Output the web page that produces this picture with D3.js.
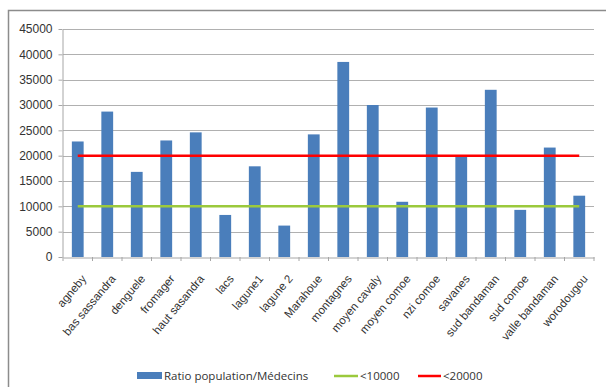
<!DOCTYPE html>
<html><head><meta charset="utf-8">
<script src="https://cdn.jsdelivr.net/npm/d3@7"></script>
<style>body{margin:0;background:#fff;}svg{display:block;font-family:"Open Sans","Liberation Sans",sans-serif;}</style>
</head><body>
<svg id="c" width="606" height="387"></svg>
<script>
const categories = ["agneby","bas sassandra","denguele","fromager","haut sasandra","lacs","lagune1","lagune 2","Marahoue","montagnes","moyen cavaly","moyen comoe","nzi comoe","savanes","sud bandaman","sud comoe","valle bandaman","worodougou"];
const ratio = [22800,28700,16800,23000,24600,8300,17900,6200,24200,38500,30000,10900,29500,20000,33000,9300,21600,12100];
const threshold1 = 10000;
const threshold2 = 20000;
const yTicks = [0,5000,10000,15000,20000,25000,30000,35000,40000,45000];
const seriesNames = ["Ratio population/Médecins","<10000","<20000"];

const svg = d3.select("#c");
const m = {l:63, r:594, t:29, b:257};
svg.append("path").attr("d","M8.5,400 V10.5 H606").attr("fill","none").attr("stroke","#8c8c8c").attr("stroke-width",1.5);

const x = d3.scaleBand().domain(categories).range([m.l, m.r]).paddingInner(0.6).paddingOuter(0.3);
const y = d3.scaleLinear().domain([0,45000]).range([m.b, m.t]);

svg.append("g").selectAll("line").data(yTicks.filter(d=>d>0)).join("line")
  .attr("x1",m.l).attr("x2",m.r).attr("y1",d=>Math.round(y(d))+0.5).attr("y2",d=>Math.round(y(d))+0.5)
  .attr("stroke","#b0b0b0").attr("stroke-width",1);

const ya = svg.append("g").attr("transform",`translate(${m.l-0.5},0)`)
  .call(d3.axisLeft(y).tickValues(yTicks).tickFormat(d3.format("d")).tickSize(4).tickSizeOuter(0));
ya.select(".domain").attr("stroke","#a6a6a6");
ya.selectAll(".tick line").attr("stroke","#a6a6a6");
ya.selectAll("text").attr("font-size",12).attr("fill","#333").attr("x",-10);

const xa = svg.append("g").attr("transform",`translate(0,${m.b+0.5})`).call(d3.axisBottom(x).tickSize(0).tickSizeOuter(0));
xa.select(".domain").attr("stroke","#a6a6a6");
xa.selectAll("text").attr("font-size",11.5).attr("fill","#333")
  .attr("text-anchor","end").attr("y",0).attr("dy","0.35em")
  .attr("transform","translate(6,19) rotate(-50)");
const step = x.step();
const x0 = x(categories[0]) - (step - x.bandwidth())/2;
svg.append("g").selectAll("line").data(d3.range(categories.length+1)).join("line")
  .attr("x1",i=>x0 + i*step).attr("x2",i=>x0 + i*step)
  .attr("y1",m.b).attr("y2",m.b+4).attr("stroke","#a6a6a6");

svg.append("g").selectAll("rect").data(ratio).join("rect")
  .attr("x",(d,i)=>x(categories[i])).attr("width",x.bandwidth())
  .attr("y",d=>y(d)).attr("height",d=>m.b-y(d)).attr("fill","#4a7ebb");

const cx = c => x(c)+x.bandwidth()/2;
const line = d3.line().x(d=>cx(d[0])).y(d=>y(d[1]));
svg.append("path").datum(categories.map(c=>[c,threshold1])).attr("d",line).attr("fill","none").attr("stroke","#9bc93c").attr("stroke-width",2.5);
svg.append("path").datum(categories.map(c=>[c,threshold2])).attr("d",line).attr("fill","none").attr("stroke","#ff0000").attr("stroke-width",2.5);

const lg = svg.append("g").attr("font-size",11.5).attr("fill","#333");
lg.append("rect").attr("x",137).attr("y",372).attr("width",25).attr("height",7).attr("fill","#4a7ebb");
lg.append("text").attr("x",164).attr("y",380).text(seriesNames[0]);
lg.append("line").attr("x1",334).attr("x2",358).attr("y1",376).attr("y2",376).attr("stroke","#9bc93c").attr("stroke-width",2.5);
lg.append("text").attr("x",360).attr("y",380).text(seriesNames[1]);
lg.append("line").attr("x1",418).attr("x2",441).attr("y1",376).attr("y2",376).attr("stroke","#ff0000").attr("stroke-width",2.5);
lg.append("text").attr("x",443).attr("y",380).text(seriesNames[2]);
</script>
</body></html>
